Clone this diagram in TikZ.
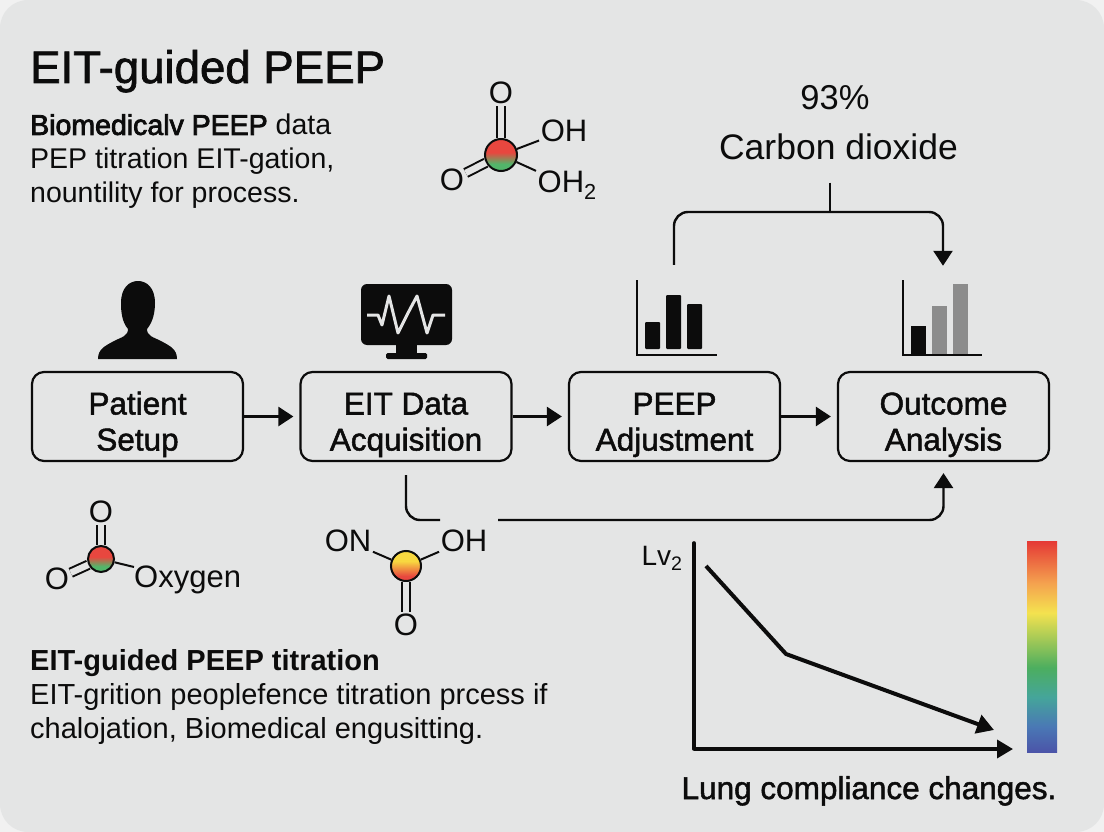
\documentclass[tikz,border=0pt]{standalone}
\usepackage{fontspec}
\setmainfont{Liberation Sans}
\newfontfamily\medfont[FakeBold=1.6]{Liberation Sans}
\newfontfamily\semifont[FakeBold=2.8]{Liberation Sans}
\usetikzlibrary{arrows.meta, calc}
\definecolor{inkblack}{HTML}{0C0C0C}
\definecolor{paneled}{HTML}{E4E5E5}
\definecolor{pageout}{HTML}{F1F1F1}
\definecolor{bargrey}{HTML}{8C8C8C}
\definecolor{molred}{HTML}{E8473F}
\definecolor{molgreen}{HTML}{52B56A}
\definecolor{molyellow}{HTML}{F8D840}
\definecolor{specA}{HTML}{E53935}
\definecolor{specB}{HTML}{F4A24F}
\definecolor{specC}{HTML}{F4E24F}
\definecolor{specD}{HTML}{4CAE5F}
\definecolor{specE}{HTML}{45A59A}
\definecolor{specF}{HTML}{4A78B5}
\definecolor{specG}{HTML}{4B54A8}
\pgfdeclareverticalshading{spectrumbar}{100bp}{
  color(0bp)=(specG); color(25bp)=(specG); color(31bp)=(specF); color(38bp)=(specE);
  color(45bp)=(specD); color(58bp)=(specC); color(65bp)=(specB);
  color(75bp)=(specA); color(100bp)=(specA)}
\pgfdeclareverticalshading{redgreen}{100bp}{
  color(0bp)=(molgreen); color(36bp)=(molgreen); color(54bp)=(molred); color(100bp)=(molred)}
\pgfdeclareverticalshading{yellowred}{100bp}{
  color(0bp)=(molred); color(33bp)=(molred); color(58bp)=(molyellow); color(100bp)=(molyellow)}

\begin{document}
\begin{tikzpicture}[x=1pt, y=-1pt, inkblack,
    stepbox/.style={draw=inkblack, line width=2.2pt, rounded corners=12pt, minimum width=211pt, minimum height=89pt,
      align=center, inner sep=0pt, font=\fontsize{31.5}{36}\selectfont\medfont, text height=75pt, text depth=7pt},
    link/.style={line width=2.4pt, draw=inkblack},
    arrow/.style={link, -{Triangle[width=19pt, length=15pt]}},
    atomtext/.style={inner sep=1.5pt, font=\fontsize{31}{34}\selectfont},
    atom/.style={circle, draw=inkblack, line width=2pt, minimum size=#1, inner sep=0pt},
    bond/.style={line width=2pt, draw=inkblack},
    dblbond/.style={line width=2pt, draw=inkblack, double=paneled, double distance=6.5pt},
    icon/.style={minimum width=90pt, minimum height=80pt, inner sep=0pt},
    para/.style={anchor=north west, align=left, inner sep=0pt}]
  \useasboundingbox (0,0) rectangle (1104,832);
  \fill[pageout] (0,0) rectangle (1104,832);
  \fill[paneled, rounded corners=28pt] (0,0) rectangle (1104,832);

  \node[anchor=base west, inner sep=0pt, font=\fontsize{45.6}{50}\selectfont\medfont] (title) at (30,83) {EIT-guided PEEP};
  \node[para, font=\fontsize{28.5}{34}\selectfont] (intro) at (30,114)
    {{\semifont Biomedicalv PEEP} data\\PEP titration EIT-gation,\\nountility for process.};
  \node[para, font=\fontsize{29}{34}\selectfont] (summary) at (30,649)
    {{\bfseries EIT-guided PEEP titration}\\EIT-grition peoplefence titration prcess if\\chalojation, Biomedical engusitting.};

  % process row
  \node[stepbox] (patient) at (137.5,416.5) {Patient\\Setup};
  \node[stepbox] (eit) at (406,416.5) {EIT Data\\Acquisition};
  \node[stepbox] (peep) at (674.5,416.5) {PEEP\\Adjustment};
  \node[stepbox] (outcome) at (943.5,416.5) {Outcome\\Analysis};
  \draw[arrow, shorten >=6pt] (patient) -- (eit);
  \draw[arrow, shorten >=6pt] (eit) -- (peep);
  \draw[arrow, shorten >=6pt] (peep) -- (outcome);

  % icons over the boxes
  \node[icon] (person) at (138,320) {};
  \fill (98,359) .. controls (98,349) and (105,346) .. (114,341) .. controls (122,337) and (128,336) .. (128,329)
    .. controls (122,322) and (121,312) .. (121,303) .. controls (121,288) and (129,281) .. (138,281)
    .. controls (147,281) and (155,288) .. (155,303) .. controls (155,312) and (153,322) .. (147,329)
    .. controls (147,336) and (153,337) .. (161,341) .. controls (170,346) and (177,349) .. (177,359) -- cycle;
  \node[icon] (monitor) at (406,320) {};
  \fill[rounded corners=6pt] (361,284) rectangle (452,345);
  \fill (396,345) rectangle (417,354);
  \fill[rounded corners=1.5pt] (386,353) rectangle (427,359);
  \draw[paneled, line width=3pt, line join=round] (367,315) -- (378,315) -- (382,325) -- (389,296) -- (398,333) -- (408,313) -- (417,296) -- (427,333) -- (433,315) -- (445,315);
  \node[icon] (peepchart) at (674,318) {};
  \draw[link, line width=2.6pt] (637,280) |- (717,355);
  \foreach \x/\h in {645/322, 666/295, 687/304}
    \fill[rounded corners=1pt] (\x,\h) rectangle (\x+15,349);
  \node[icon] (outchart) at (943,318) {};
  \foreach \x/\h in {932/306, 953/284}
    \fill[bargrey] (\x,\h) rectangle (\x+15,355);
  \fill (911,326) rectangle (926,355);
  \draw[link, line width=2.6pt] (903,280) |- (982,355);

  % carbon dioxide bracket
  \node[font=\fontsize{34.5}{38}\selectfont] (pct) at (835,98) {93\%};
  \node[font=\fontsize{35.5}{38}\selectfont] (co2) at (838.5,147) {Carbon dioxide};
  \coordinate (brk) at (830,212);
  \draw[link, shorten <=19pt] (co2.south -| brk) -- (brk);
  \draw[arrow, rounded corners=14pt, shorten <=13pt, shorten >=12pt] (peepchart.north) |- (brk) -| (outchart.north);

  % return line, broken over the molecule
  \coordinate (gapl) at (440,520);
  \coordinate (gapr) at (498,520);
  \draw[link, rounded corners=14pt, shorten <=13pt] (eit.south) |- (gapl);
  \draw[arrow, rounded corners=14pt, shorten >=11pt] (gapr) -| (outcome.south);

  % molecules
  \node[atom=32pt, shade, shading=redgreen] (ca) at (501,155) {};
  \node[atomtext] (caO) at (501,93) {O};
  \node[atomtext] (caOH) at (564,131) {OH};
  \node[atomtext] (caOb) at (452,180) {O};
  \node[atomtext, anchor=west] (caOHb) at (536,185) {OH\textsubscript{2}};
  \draw[dblbond] (ca) -- (caO);
  \draw[dblbond] (ca) -- (caOb);
  \draw[bond] (ca) -- (caOH);
  \draw[bond] (ca) -- (caOHb);

  \node[atom=26pt, shade, shading=redgreen] (cb) at (101,559) {};
  \node[atomtext] (cbO) at (101,512) {O};
  \node[atomtext] (cbOb) at (57,579) {O};
  \node[atomtext, anchor=west, inner sep=0pt] (cbOx) at (134,580) {Oxygen};
  \draw[dblbond] (cb) -- (cbO);
  \draw[dblbond] (cb) -- (cbOb);
  \draw[bond] (cb) -- (cbOx);

  \node[atom=30pt, shade, shading=yellowred] (cc) at (406,566) {};
  \node[atomtext] (ccON) at (348,541) {ON};
  \node[atomtext] (ccOH) at (464,541) {OH};
  \node[atomtext] (ccO) at (406,625) {O};
  \draw[bond] (cc) -- (ccON);
  \draw[bond] (cc) -- (ccOH);
  \draw[dblbond] (cc) -- (ccO);

  % compliance plot
  \coordinate (origin) at (694,749);
  \coordinate (axtop) at (694,543);
  \coordinate (axend) at (1013,749);
  \draw[line width=3.6pt, line cap=round] (axtop) -- (origin);
  \draw[line width=3.6pt, -{Triangle[width=18pt, length=16pt]}] (origin) -- (axend);
  \coordinate (cva) at (706,566);
  \coordinate (cvb) at (786,654);
  \coordinate (cvc) at (994,730);
  \draw[line width=4pt, line join=round, -{Triangle[width=19pt, length=17pt]}] (cva) -- (cvb) -- (cvc);
  \node[font=\fontsize{28}{30}\selectfont] (lvlabel) at (662,558) {Lv\textsubscript{2}};
  \shade[shading=spectrumbar] (1027,541) rectangle (1057,752);
  \node[anchor=base, inner sep=0pt, font=\fontsize{31.5}{34}\selectfont\medfont] (lung) at (869,799) {Lung compliance changes.};
\end{tikzpicture}
\end{document}
